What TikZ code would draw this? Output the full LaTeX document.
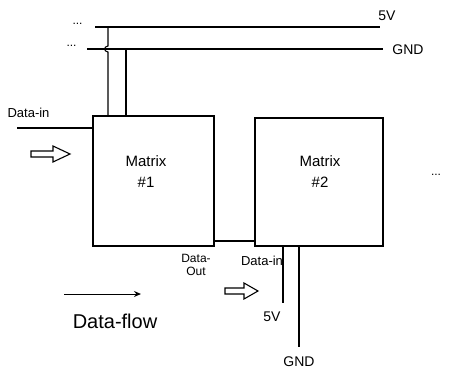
\documentclass[tikz,border=0pt]{standalone}
\usepackage{fontspec}
\setmainfont{Liberation Sans}
\usetikzlibrary{arrows.meta}
\newcommand{\fs}[1]{\fontsize{#1}{#1}\selectfont}
\begin{document}
\begin{tikzpicture}[x=1pt,y=-1pt,line width=1.1pt,
  box/.style={draw,rectangle,inner sep=0pt},
  lbl/.style={inner sep=0pt,font=\fs{13}},
  big/.style={inner sep=0pt,font=\fs{15},align=center},
  hollow/.style={draw,line width=1.1pt,fill=white}]
\useasboundingbox (0,0) rectangle (449,369);
% boxes
\node[box,minimum width=121pt,minimum height=130pt] (m1) at (153.5,181) {};
\node[box,minimum width=128pt,minimum height=128pt] (m2) at (319,182) {};
\node[big] (t1) at (146,172) {Matrix\\[6pt]\#1};
\node[big] (t2) at (320,172) {Matrix\\[6pt]\#2};
% supply rails
\coordinate (vL) at (95,27); \coordinate (vR) at (380,27);
\coordinate (gL) at (87,49); \coordinate (gR) at (383,49);
\draw (vL) -- (vR);
\draw (gL) -- (gR);
\node[lbl,anchor=west,font=\fs{12}] (d5) at (72,24) {...};
\node[lbl,anchor=west,font=\fs{12}] (dg) at (66,46) {...};
\node[lbl,font=\fs{14}] (l5) at (387,16) {5V};
\node[lbl,font=\fs{14}] (lg) at (408,50) {GND};
% taps to matrix 1
\coordinate (a1) at (108,27); \coordinate (a2) at (108,46); \coordinate (a3) at (108,52);
\draw (a1) -- (a2) .. controls (103.5,46.5) and (103.5,51.5) .. (a3) -- (m1.north -| a3);
\coordinate (b1) at (126,49);
\draw (b1) -- (m1.north -| b1);
% data in
\coordinate (di) at (17,128);
\draw (di) -- (m1.west |- di);
\node[lbl,anchor=west] (ldi) at (7,113) {Data-in};
% hollow arrow 1
\draw[hollow] (31,151) -- (53,151) -- (53,146) -- (70,154) -- (53,162) -- (53,157) -- (31,157) -- cycle;
% link between matrices
\coordinate (lk) at (0,241);
\draw (m1.east |- lk) -- (m2.west |- lk);
\node[lbl,align=center,font=\fs{12}] (ldo) at (196,265) {Data-\\[1pt]Out};
\node[lbl] (ldi2) at (262,261) {Data-in};
% hollow arrow 2
\draw[hollow] (225,288) -- (244,288) -- (244,283) -- (258,291) -- (244,299) -- (244,294) -- (225,294) -- cycle;
% supply to matrix 2
\coordinate (c5) at (283,303); \coordinate (cg) at (299,347);
\draw (m2.south -| c5) -- (c5);
\draw (m2.south -| cg) -- (cg);
\node[lbl,font=\fs{14}] (l52) at (272,317) {5V};
\node[lbl,font=\fs{14}] (lg2) at (299,362) {GND};
% dots right
\node[lbl,font=\fs{12}] (dr) at (436,175) {...};
% data flow
\coordinate (f1) at (64,294); \coordinate (f2) at (141,294);
\draw[-{Stealth[open,length=7pt,width=6pt]},line width=1pt] (f1) -- (f2);
\node[inner sep=0pt,font=\fs{20}] (ldf) at (115,321) {Data-flow};
\end{tikzpicture}
\end{document}
